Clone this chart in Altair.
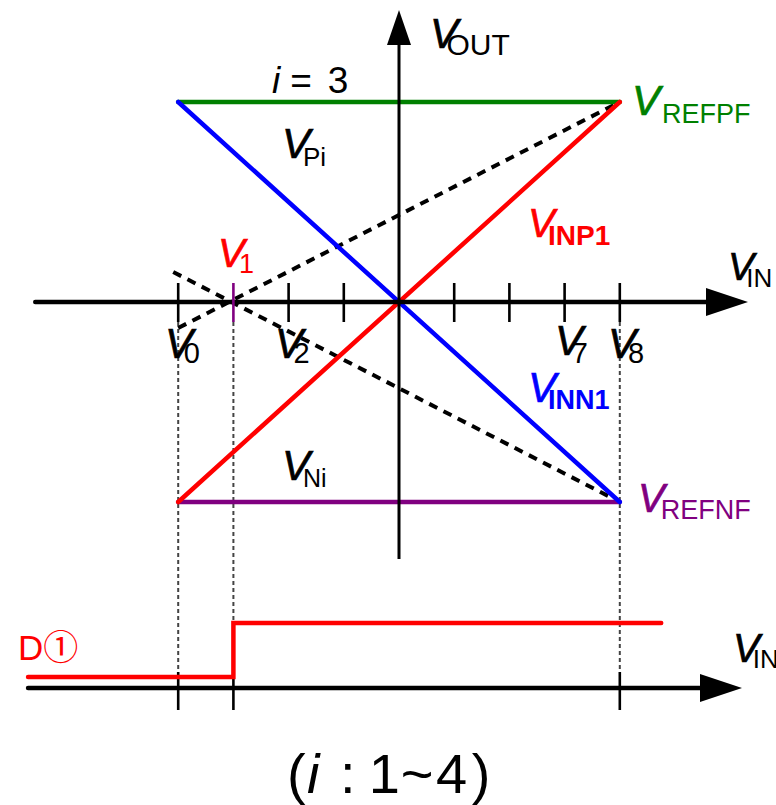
import altair as alt
import pandas as pd

# ---------------------------------------------------------------------------
# Values (x in V_IN steps: V0 = -4 ... V8 = 4, y in units of the reference)
# ---------------------------------------------------------------------------
step_x = [-4, -3, -2, -1, 1, 2, 3, 4]          # tick marks V0 ... V8 (origin excluded)
v1_x = -3                                       # threshold V1 for i = 3

ramp_x1 = [-4, -4, -4, -4]
ramp_y1 = [1, -1, 1, -1]
ramp_x2 = [4, 4, 4, 4]
ramp_y2 = [1, -1, -1, 1]
ramp_colors = ["#008000", "#800080", "#0000ff", "#ff0000"]  # VREFPF, VREFNF, VINN1, VINP1

dash_x1 = [-4.0, -4.09]
dash_y1 = [-0.13, 0.15]
dash_x2 = [4.0, 4.0]
dash_y2 = [1.0, -1.0]

guide_x = [-4, -3, 4]                            # V0, V1, V8 carried to the digital axis

d_x = [-6.72, -3, -3, 4.75]                      # comparator output D(1)
d_y = [-1.875, -1.875, -1.605, -1.605]

axis_y_top = 0.0
axis_y_bot = -1.93

# ---------------------------------------------------------------------------
# Scales
# ---------------------------------------------------------------------------
W, H = 776, 805
PX_STEP, PX_UNIT = 55.2, 200.0
X0, Y0 = 399.0, 302.0
xdom = [-X0 / PX_STEP, (W - X0) / PX_STEP]
ydom = [(Y0 - H) / PX_UNIT, Y0 / PX_UNIT]


def X(f):
    return alt.X(f, type="quantitative", scale=alt.Scale(domain=xdom, nice=False, zero=False), axis=None)


def Y(f):
    return alt.Y(f, type="quantitative", scale=alt.Scale(domain=ydom, nice=False, zero=False), axis=None)


def segs(rows, **mk):
    df = pd.DataFrame(rows, columns=["x", "y", "x2", "y2"])
    return alt.Chart(df).mark_rule(**mk).encode(x=X("x"), y=Y("y"), x2=alt.X2("x2"), y2=alt.Y2("y2"))


# axes
axes = segs([(-6.59, axis_y_top, 5.56, axis_y_top),
             (-6.72, axis_y_bot, 5.45, axis_y_bot)],
            color="black", strokeWidth=4.5, strokeCap="round")
vaxis = segs([(0, -1.285, 0, 1.29)], color="black", strokeWidth=3)

ticks_top = segs([(x, 0.095, x, -0.1) for x in step_x if x != v1_x],
                 color="black", strokeWidth=2.6)
tick_v1 = segs([(v1_x, 0.095, v1_x, -0.1)], color="#800080", strokeWidth=2.6)
ticks_bot = segs([(x, -1.85, x, -2.04) for x in guide_x], color="black", strokeWidth=2.6)

guides = segs([(x, -0.1, x, -1.85) for x in guide_x],
              color="#444444", strokeWidth=2, strokeDash=[4, 3])

dashed = segs(list(zip(dash_x1, dash_y1, dash_x2, dash_y2)),
              color="black", strokeWidth=4, strokeDash=[9, 7])

ramp_df = pd.DataFrame({"x": ramp_x1, "y": ramp_y1, "x2": ramp_x2, "y2": ramp_y2, "c": ramp_colors})
ramps = alt.Chart(ramp_df).mark_rule(strokeWidth=4.5, strokeCap="round").encode(
    x=X("x"), y=Y("y"), x2=alt.X2("x2"), y2=alt.Y2("y2"), color=alt.Color("c:N", scale=None))

d_df = pd.DataFrame({"x": d_x, "y": d_y, "o": list(range(len(d_x)))})
d_line = alt.Chart(d_df).mark_line(color="#ff0000", strokeWidth=4.5, strokeCap="round",
                                   strokeJoin="miter").encode(
    x=X("x"), y=Y("y"), order="o:O")

# arrowheads
right_df = pd.DataFrame({"x": [5.942, 5.833], "y": [axis_y_top, axis_y_bot]})
arrows_r = alt.Chart(right_df).mark_point(shape="M-1,-0.667L1,0L-1,0.667Z", size=1764,
                                          filled=True, color="black", opacity=1,
                                          strokeWidth=0).encode(x=X("x"), y=Y("y"))
up_df = pd.DataFrame({"x": [0.0], "y": [1.3725]})
arrow_u = alt.Chart(up_df).mark_point(shape="M-0.686,1L0,-1L0.686,1Z", size=1225,
                                      filled=True, color="black", opacity=1,
                                      strokeWidth=0).encode(x=X("x"), y=Y("y"))

# ---------------------------------------------------------------------------
# Labels: italic V with an upright subscript
# ---------------------------------------------------------------------------
BLACK, GREEN, BLUE, RED, PURPLE = "#000000", "#008000", "#0000ff", "#ff0000", "#800080"

# (subscript, colour, V x, V y, V size, sub x, sub y, sub size, bold sub)
labels = [
    ("OUT",   BLACK,  0.56,  1.27,  42, 0.86, 1.235, 30, False),
    ("REFPF", GREEN,  4.22,  0.935, 42, 4.764, 0.895, 27, False),
    ("Pi",    BLACK, -2.12,  0.72,  42, -1.74, 0.68, 26, False),
    ("INP1",  RED,    2.337, 0.325, 40, 2.70, 0.285, 28, True),
    ("1",     RED,   -3.279, 0.175, 40, -2.90, 0.145, 27, False),
    ("IN",    BLACK,  5.96,  0.11,  39, 6.29, 0.075, 26, False),
    ("0",     BLACK, -4.239, -0.28, 42, -3.90, -0.305, 29, False),
    ("2",     BLACK, -2.246, -0.28, 42, -1.91, -0.305, 29, False),
    ("7",     BLACK,  2.826, -0.265, 42, 3.13, -0.305, 29, False),
    ("8",     BLACK,  3.786, -0.28, 42, 4.15, -0.305, 29, False),
    ("INN1",  BLUE,   2.337, -0.5,  42, 2.70, -0.535, 27, True),
    ("Ni",    BLACK, -2.12,  -0.89, 42, -1.74, -0.925, 25, False),
    ("REFNF", PURPLE, 4.33,  -1.05, 40, 4.74, -1.085, 27, False),
    ("IN",    BLACK,  6.05,  -1.80, 40, 6.41, -1.83, 26, False),
]

v_df = pd.DataFrame({"t": ["V"] * len(labels), "c": [l[1] for l in labels],
                     "x": [l[2] for l in labels], "y": [l[3] for l in labels],
                     "s": [l[4] for l in labels]})
sub_df = pd.DataFrame({"t": [l[0] for l in labels], "c": [l[1] for l in labels],
                       "x": [l[5] for l in labels], "y": [l[6] for l in labels],
                       "s": [l[7] for l in labels], "b": [l[8] for l in labels]})

FONT = "Liberation Sans, Arial, Noto Sans CJK JP, sans-serif"


def text_layer(df, italic=False, bold=False, outline=0.0):
    mk = dict(align="left", baseline="alphabetic", font=FONT,
              fontStyle="italic" if italic else "normal",
              fontWeight="bold" if bold else "normal")
    enc = dict(x=X("x"), y=Y("y"), text="t:N",
               color=alt.Color("c:N", scale=None), size=alt.Size("s:Q", scale=None))
    if outline > 0:
        mk["strokeWidth"] = outline
        enc["stroke"] = alt.Stroke("c:N", scale=None)
    return alt.Chart(df).mark_text(**mk).encode(**enc)


v_text = text_layer(v_df, italic=True, outline=0.7)
sub_plain = text_layer(sub_df[~sub_df["b"]].drop(columns="b"))
sub_bold = text_layer(sub_df[sub_df["b"]].drop(columns="b"), bold=True)

# free text: "i = 3", "D①", "(i : 1~4)"
italic_df = pd.DataFrame({"t": ["i", "i"], "c": [BLACK, BLACK],
                          "x": [-2.30, -1.667], "y": [1.045, -2.455], "s": [37, 56]})
plain_df = pd.DataFrame({"t": ["=", "3", "D\u2460", "(", ":", "1", "~", "4", ")"],
                         "c": [BLACK, BLACK, RED, BLACK, BLACK, BLACK, BLACK, BLACK, BLACK],
                         "x": [-1.97, -1.29, -6.902, -2.029, -1.069, -0.55, 0.03, 0.67, 1.32],
                         "y": [1.045, 1.045, -1.79, -2.455, -2.455, -2.455, -2.455, -2.455, -2.455],
                         "s": [37, 37, 35, 56, 56, 56, 56, 56, 56]})
free_i = text_layer(italic_df, italic=True)
free_p = text_layer(plain_df)

chart = alt.layer(
    guides, dashed, ramps, axes, vaxis, ticks_top, tick_v1, ticks_bot, d_line,
    arrows_r, arrow_u, v_text, sub_plain, sub_bold, free_i, free_p,
).properties(
    width=W, height=H, padding=0, autosize=alt.AutoSizeParams(type="none"),
    background="white",
).configure_view(stroke=None)

chart.save("out.html", embed_options={"renderer": "svg", "actions": False})
